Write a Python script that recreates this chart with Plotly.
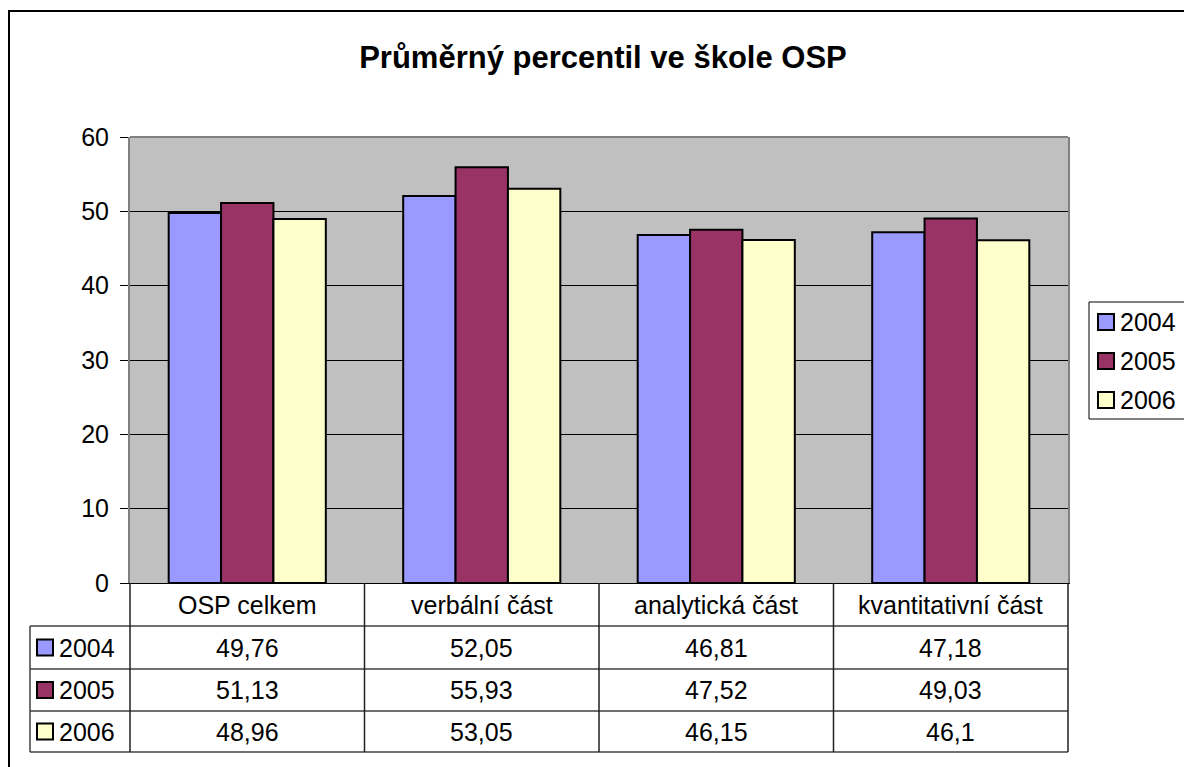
import plotly.graph_objects as go

categories = ["OSP celkem", "verbální část", "analytická část", "kvantitativní část"]
series_names = ["2004", "2005", "2006"]
values_2004 = [49.76, 52.05, 46.81, 47.18]
values_2005 = [51.13, 55.93, 47.52, 49.03]
values_2006 = [48.96, 53.05, 46.15, 46.1]
series_values = [values_2004, values_2005, values_2006]
colors = ["#9999FF", "#993366", "#FFFFCC"]
title_text = "Průměrný percentil ve škole OSP"

W, H = 1184, 767
FONT = "Liberation Sans, Arial, sans-serif"
TXT = 25


def px(x):
    return x / W


def py(y):
    return (H - y) / H


fig = go.Figure()
for name, vals, col in zip(series_names, series_values, colors):
    fig.add_trace(go.Bar(
        x=categories, y=vals, name=name,
        marker=dict(color=col, line=dict(color="black", width=2)),
    ))

plot_left, plot_right, plot_top, plot_bottom = 130, 1068, 137, 583

shapes = []
# outer chart border
shapes.append(dict(type="rect", xref="paper", yref="paper",
                   x0=px(9), x1=px(1200), y0=py(800), y1=py(11),
                   line=dict(color="black", width=2), layer="above"))
# plot area top border
shapes.append(dict(type="line", xref="paper", yref="paper",
                   x0=px(plot_left), x1=px(plot_right), y0=py(plot_top), y1=py(plot_top),
                   line=dict(color="#808080", width=2)))

# data table lines
row_lines = [626, 669, 711, 752]
col_lines = [plot_left, 364.5, 599, 833.5, plot_right]
table_left = 30
for y in row_lines:
    shapes.append(dict(type="line", xref="paper", yref="paper",
                       x0=px(table_left), x1=px(plot_right), y0=py(y), y1=py(y),
                       line=dict(color="#404040", width=1.5)))
for x in col_lines:
    shapes.append(dict(type="line", xref="paper", yref="paper",
                       x0=px(x), x1=px(x), y0=py(plot_bottom), y1=py(row_lines[-1]),
                       line=dict(color="#202020", width=1.5)))
shapes.append(dict(type="line", xref="paper", yref="paper",
                   x0=px(table_left), x1=px(table_left), y0=py(row_lines[0]), y1=py(row_lines[-1]),
                   line=dict(color="#404040", width=1.5)))

annotations = []
header_center = (plot_bottom + row_lines[0]) / 2
for c in categories:
    annotations.append(dict(x=c, xref="x", y=py(header_center), yref="paper",
                            text=c, showarrow=False, xanchor="center", yanchor="middle",
                            font=dict(family=FONT, size=TXT, color="black")))
row_centers = [(row_lines[i] + row_lines[i + 1]) / 2 for i in range(3)]
for name, vals, col, yc in zip(series_names, series_values, colors, row_centers):
    for c, v in zip(categories, vals):
        annotations.append(dict(x=c, xref="x", y=py(yc), yref="paper",
                                text=f"{v:g}".replace(".", ","), showarrow=False,
                                xanchor="center", yanchor="middle",
                                font=dict(family=FONT, size=TXT, color="black")))
    # table key square
    shapes.append(dict(type="rect", xref="paper", yref="paper",
                       x0=px(37), x1=px(53), y0=py(yc + 8), y1=py(yc - 8),
                       fillcolor=col, line=dict(color="black", width=2)))
    annotations.append(dict(x=px(57), xref="paper", y=py(yc), yref="paper",
                            text=name, showarrow=False, xanchor="left", yanchor="middle",
                            font=dict(family=FONT, size=TXT, color="black")))

# legend (right side)
shapes.append(dict(type="rect", xref="paper", yref="paper",
                   x0=px(1089), x1=px(1200), y0=py(419), y1=py(302),
                   fillcolor="white", line=dict(color="black", width=1)))
legend_centers = [322, 361, 400]
for name, col, yc in zip(series_names, colors, legend_centers):
    shapes.append(dict(type="rect", xref="paper", yref="paper",
                       x0=px(1098), x1=px(1114), y0=py(yc + 8), y1=py(yc - 8),
                       fillcolor=col, line=dict(color="black", width=2)))
    annotations.append(dict(x=px(1118), xref="paper", y=py(yc), yref="paper",
                            text=name, showarrow=False, xanchor="left", yanchor="middle",
                            font=dict(family=FONT, size=TXT, color="black")))

fig.update_layout(
    width=W, height=H,
    margin=dict(l=0, r=0, t=0, b=0, pad=0),
    paper_bgcolor="white",
    plot_bgcolor="#C0C0C0",
    title=dict(text="<b>" + title_text + "</b>", x=px(603), xanchor="center",
               y=py(57), yanchor="middle",
               font=dict(family=FONT, size=31, color="black")),
    barmode="group",
    bargap=0.33,
    bargroupgap=0,
    showlegend=False,
    xaxis=dict(domain=[px(plot_left), px(plot_right)], showticklabels=False,
               showline=True, linecolor="black", linewidth=1, ticks="",
               showgrid=False, fixedrange=True, automargin=False),
    yaxis=dict(domain=[py(plot_bottom), py(plot_top)], range=[0, 60], dtick=10,
               showgrid=True, gridcolor="black", gridwidth=1,
               showline=True, linecolor="#808080", linewidth=2, mirror=True,
               ticks="outside", ticklen=8, tickcolor="black", ticklabelstandoff=6,
               tickfont=dict(family=FONT, size=TXT, color="black"),
               zeroline=False, fixedrange=True, automargin=False),
    shapes=shapes,
    annotations=annotations,
)

fig.write_html("out.html", config={"displayModeBar": False},
               post_script="document.body.style.margin='0';document.body.style.overflow='hidden';")
